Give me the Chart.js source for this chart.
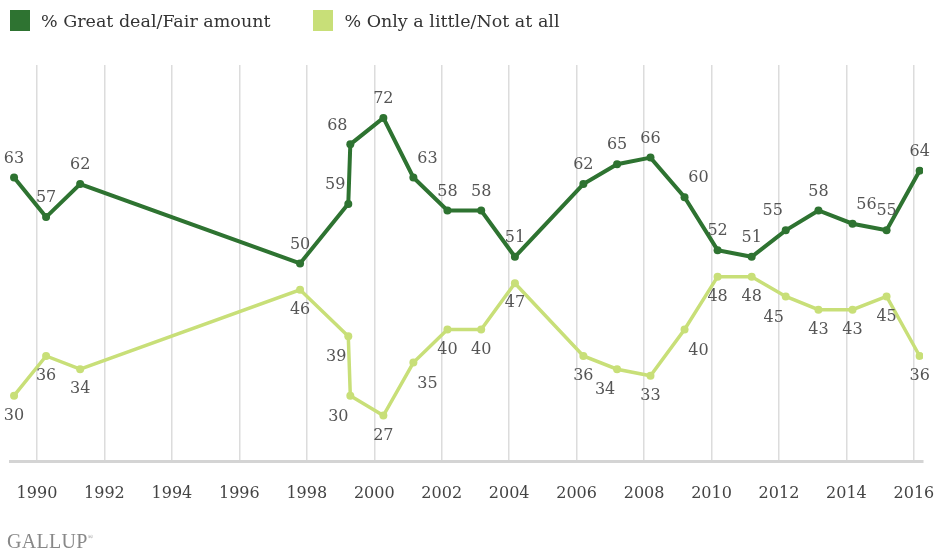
<!DOCTYPE html>
<html>
<head>
<meta charset="utf-8">
<script src="https://cdn.jsdelivr.net/npm/chart.js@4/dist/chart.umd.min.js"></script>
<style>
  html, body { margin: 0; padding: 0; background: #fff; }
  #wrap { position: relative; width: 938px; height: 554px; }
  #legend { position: absolute; left: 10px; top: 10px; display: flex; font-family: "DejaVu Serif", serif; font-size: 17.5px; color: #333; }
  .item { display: flex; align-items: center; margin-right: 43px; }
  .box { width: 20px; height: 21px; margin-right: 11px; }
  #brand { position: absolute; left: 7px; top: 530px; font-family: "Liberation Serif", serif; font-size: 20px; color: #888; letter-spacing: 0.3px; }
  #brand sup { font-size: 7px; vertical-align: 9px; }
</style>
</head>
<body>
<div id="wrap">
  <canvas id="chart" width="938" height="554"></canvas>
  <div id="legend"></div>
  <div id="brand">GALLUP<sup>®</sup></div>
</div>
<script>
// survey dates (fractional years)
const surveyDates = [1989.32, 1990.27, 1991.28, 1997.8, 1999.23, 1999.29, 2000.27, 2001.16, 2002.17, 2003.17, 2004.17,
  2006.2, 2007.2, 2008.19, 2009.2, 2010.18, 2011.19, 2012.2, 2013.17, 2014.18, 2015.19, 2016.17];
const greatDeal = [63, 57, 62, 50, 59, 68, 72, 63, 58, 58, 51, 62, 65, 66, 60, 52, 51, 55, 58, 56, 55, 64];
const onlyLittle = [30, 36, 34, 46, 39, 30, 27, 35, 40, 40, 47, 36, 34, 33, 40, 48, 48, 45, 43, 43, 45, 36];
const tickYears = [1990, 1992, 1994, 1996, 1998, 2000, 2002, 2004, 2006, 2008, 2010, 2012, 2014, 2016];
const seriesNames = ["% Great deal/Fair amount", "% Only a little/Not at all"];

// where each value label sits relative to its point
const greatAnchors = ["n", "n", "n", "n", "nw", "nw", "n", "ne", "n", "n", "n", "n", "n", "n", "ne", "n", "n", "nw", "n", "ne", "n", "n"];
const littleAnchors = ["s", "s", "s", "s", "sw", "sw", "s", "se", "s", "s", "s", "s", "sw", "s", "se", "s", "s", "sw", "s", "s", "s", "s"];

const DARK = "#2e7331";
const LIGHT = "#c8df78";

const offsets = {
  n: [0, -19], s: [0, 20], nw: [-13, -19], ne: [14, -19], sw: [-12, 21], se: [14, 21],
};

const valueLabels = {
  id: "valueLabels",
  afterDatasetsDraw(chart) {
    const ctx = chart.ctx;
    ctx.save();
    ctx.font = "16px 'DejaVu Serif', serif";
    ctx.fillStyle = "#555";
    ctx.textAlign = "center";
    ctx.textBaseline = "middle";
    chart.data.datasets.forEach((ds, di) => {
      const meta = chart.getDatasetMeta(di);
      meta.data.forEach((pt, i) => {
        const off = offsets[ds.anchors[i]];
        ctx.fillText(String(ds.data[i].y), pt.x + off[0], pt.y + off[1]);
      });
    });
    ctx.restore();
  },
};

function toPoints(values) {
  return values.map((v, i) => ({ x: surveyDates[i], y: v }));
}

const chart = new Chart(document.getElementById("chart"), {
  type: "line",
  data: {
    datasets: [
      {
        label: seriesNames[0],
        data: toPoints(greatDeal),
        anchors: greatAnchors,
        borderColor: DARK,
        backgroundColor: DARK,
        borderWidth: 4,
        pointRadius: 4,
        pointBorderWidth: 0,
        tension: 0,
      },
      {
        label: seriesNames[1],
        data: toPoints(onlyLittle),
        anchors: littleAnchors,
        borderColor: LIGHT,
        backgroundColor: LIGHT,
        borderWidth: 3.5,
        pointRadius: 4,
        pointBorderWidth: 0,
        tension: 0,
      },
    ],
  },
  options: {
    responsive: false,
    animation: false,
    layout: { padding: { top: 65, left: 10, right: 15, bottom: 29 } },
    plugins: { legend: { display: false }, tooltip: { enabled: false } },
    scales: {
      x: {
        type: "linear",
        min: 1989.2,
        max: 2016.27,
        afterBuildTicks: (scale) => {
          scale.ticks = tickYears.map((v) => ({ value: v }));
        },
        // keep the tick labels from pushing the plot area inwards
        afterFit: (scale) => {
          scale.paddingLeft = 0;
          scale.paddingRight = 0;
        },
        grid: { color: "#dcdcdc", lineWidth: 1.5, drawTicks: false },
        border: { display: true, color: "#d4d4d4", width: 3 },
        ticks: {
          padding: 22,
          maxRotation: 0,
          autoSkip: false,
          color: "#444",
          font: { family: "'DejaVu Serif', serif", size: 16 },
          callback: (v) => String(v),
        },
      },
      y: { display: false, min: 20, max: 80 },
    },
  },
  plugins: [valueLabels],
});

// html legend from the chart's datasets
const legend = document.getElementById("legend");
chart.data.datasets.forEach((ds) => {
  const item = document.createElement("div");
  item.className = "item";
  const box = document.createElement("span");
  box.className = "box";
  box.style.background = ds.borderColor;
  const text = document.createElement("span");
  text.textContent = ds.label;
  item.appendChild(box);
  item.appendChild(text);
  legend.appendChild(item);
});
</script>
</body>
</html>
